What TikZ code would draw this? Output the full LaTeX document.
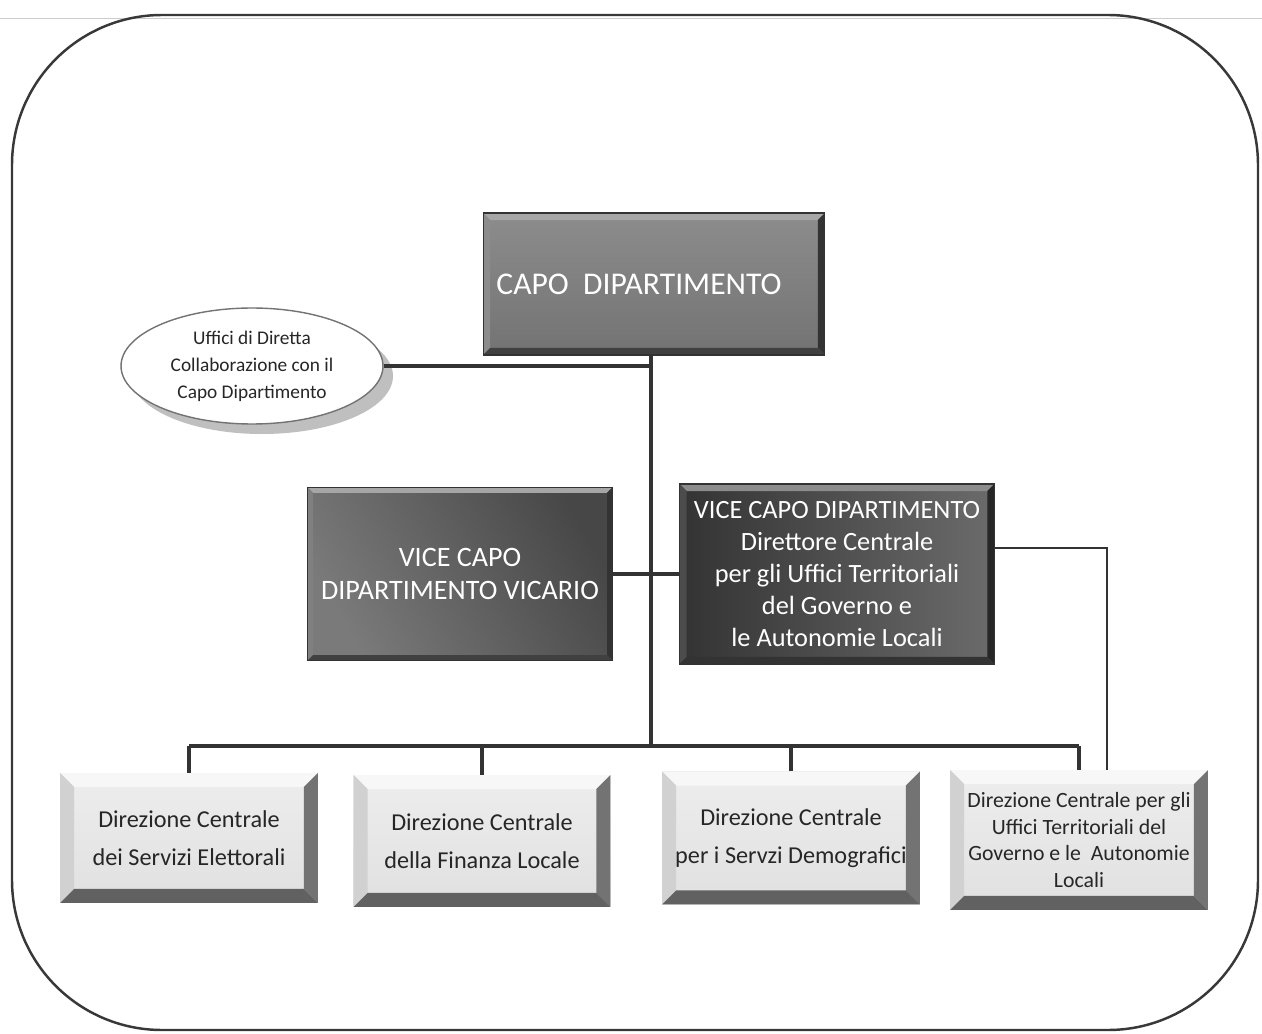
\documentclass[tikz,border=0pt]{standalone}
\usepackage{fontspec}
\setmainfont{Carlito}
\usetikzlibrary{shapes.geometric,calc}
\newcommand\bvl[5]{%
  \coordinate (bnw) at (path picture bounding box.north west);
  \coordinate (bne) at (path picture bounding box.north east);
  \coordinate (bsw) at (path picture bounding box.south west);
  \coordinate (bse) at (path picture bounding box.south east);
  \fill[#2] (bnw) -- (bne) -- ([shift={(-#1,-#1)}]bne) -- ([shift={(#1,-#1)}]bnw) -- cycle;
  \fill[#3] (bnw) -- (bsw) -- ([shift={(#1,#1)}]bsw) -- ([shift={(#1,-#1)}]bnw) -- cycle;
  \fill[#4] (bne) -- (bse) -- ([shift={(-#1,#1)}]bse) -- ([shift={(-#1,-#1)}]bne) -- cycle;
  \fill[#5] (bsw) -- (bse) -- ([shift={(-#1,#1)}]bse) -- ([shift={(#1,#1)}]bsw) -- cycle;
}
\tikzset{
  conn/.style={draw=black!80, line width=2.2pt},
  darkbox/.style={rectangle, inner sep=0pt, align=center, text=white, draw=black!80, line width=0.6pt},
  lightbox/.style={rectangle, inner sep=0pt, align=center, text=black!85,
    shading=axis, top color=black!7, bottom color=black!12,
    font=\fontsize{13.8}{21.5}\selectfont,
    path picture={\bvl{8pt}{black!3}{black!18}{black!55}{black!62}}},
}
\begin{document}
\begin{tikzpicture}[x=0.02cm,y=-0.02cm]
\useasboundingbox (0,0) rectangle (1262,1034);
\fill[white] (0,0) rectangle (1262,1034);
% scan line and outer frame
\draw[black!20, line width=0.5pt] (0,18) -- (1262,18);
\draw[black!78, line width=1.4pt, rounded corners=3cm] (12,15) rectangle (1258,1030);

% top box
\node[darkbox, minimum width=6.84cm, minimum height=2.84cm,
  shading=axis, top color=black!45, bottom color=black!55,
  path picture={\bvl{4pt}{black!35}{black!45}{black!80}{black!75}},
  font=\fontsize{18}{22}\selectfont] (capo) at (654,284) {CAPO\ \ DIPARTIMENTO\hspace*{0.6cm}};

% ellipse with shadow
\fill[black!25] (262,376) ellipse (131 and 58);
\node[ellipse, draw=black!55, line width=0.8pt, fill=white, minimum width=5.24cm, minimum height=2.32cm,
  inner sep=0pt, align=center, text=black!85, font=\fontsize{11}{15.3}\selectfont] (ell) at (252,366)
  {Uffici di Diretta\\Collaborazione con il\\Capo Dipartimento};

% second row
\node[darkbox, minimum width=6.1cm, minimum height=3.46cm,
  shading=axis, left color=black!52, right color=black!72, shading angle=120,
  path picture={\bvl{3pt}{black!35}{black!50}{black!80}{black!75}},
  font=\fontsize{16}{18.5}\selectfont] (vic) at (460,574) {VICE CAPO\\DIPARTIMENTO VICARIO};
\node[darkbox, minimum width=6.3cm, minimum height=3.6cm,
  shading=axis, left color=black!80, right color=black!58,
  path picture={\bvl{4pt}{black!45}{black!70}{black!85}{black!80}},
  font=\fontsize{15}{18.2}\selectfont] (vcd) at (837,574)
  {VICE CAPO DIPARTIMENTO\\Direttore Centrale\\per gli Uffici Territoriali\\del Governo e\\le Autonomie Locali};

% bottom row
\node[lightbox, minimum width=5.16cm, minimum height=2.6cm] (d1) at (189,838) {Direzione Centrale\\dei Servizi Elettorali};
\node[lightbox, minimum width=5.14cm, minimum height=2.64cm] (d2) at (482,841) {Direzione Centrale\\della Finanza Locale};
\node[lightbox, minimum width=5.16cm, minimum height=2.66cm] (d3) at (791,838) {Direzione Centrale\\per i Servzi Demografici};
\node[lightbox, minimum width=5.16cm, minimum height=2.8cm, font=\fontsize{12.4}{15.3}\selectfont] (d4) at (1079,840)
  {Direzione Centrale per gli\\Uffici Territoriali del\\Governo e le\ \ Autonomie\\Locali};

% connectors
\coordinate (trunk) at (651,746);
\coordinate (vr) at (1107,548);
\draw[conn] (capo.south -| trunk) -- (trunk);
\draw[conn] (ell.east) -- (ell.east -| trunk);
\draw[conn] (vic.east) -- (vcd.west);
\draw[conn] (d1.north |- trunk) -- (d4.north |- trunk);
\draw[conn] (d1.north) -- (d1.north |- trunk);
\draw[conn] (d2.north) -- (d2.north |- trunk);
\draw[conn] (d3.north) -- (d3.north |- trunk);
\draw[conn] (d4.north) -- (d4.north |- trunk);
\draw[conn, line width=1.4pt] (vcd.east |- vr) -- (vr) -- (vr |- d4.north);
\end{tikzpicture}
\end{document}
